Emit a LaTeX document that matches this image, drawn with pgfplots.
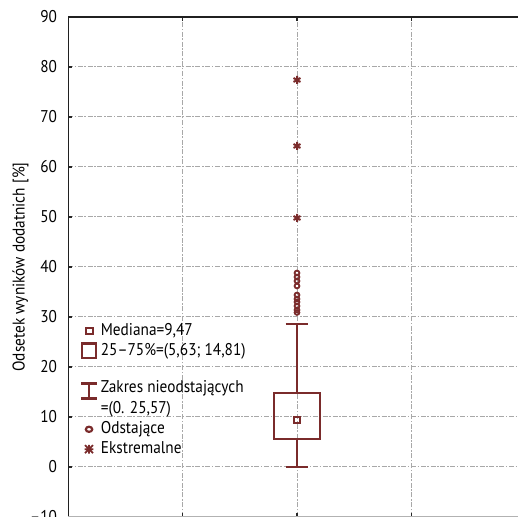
\documentclass[border=0pt]{standalone}
\usepackage{fontspec}
\setmainfont{PT Sans}[FakeStretch=0.9]
\usepackage{pgfplots}
\pgfplotsset{compat=1.18}
\usepgfplotslibrary{statistics}
\definecolor{boxc}{HTML}{7A2B2B}
\definecolor{gridc}{HTML}{A8A8A8}

\begin{document}
\begin{tikzpicture}
\begin{axis}[
    name=ax,
    scale only axis,
    width=229pt, height=250pt,
    xmin=0, xmax=4,
    ymin=-10, ymax=90,
    xtick={1,2,3}, xticklabels={},
    ytick={-10,0,10,20,30,40,50,60,70,80,90},
    yticklabels={–10,0,10,20,30,40,50,60,70,80,90},
    grid=major,
    grid style={gridc, line width=0.5pt, dash pattern=on 2.5pt off 0.8pt on 0.8pt off 0.8pt},
    axis line style={draw=none},
    tick style={draw=gray!30!black, line width=0.9pt},
    major tick length=2pt,
    tick align=inside,
    font=\fontsize{8.5}{10}\selectfont,
    ticklabel style={font=\fontsize{8.5}{10}\selectfont},
    yticklabel style={xshift=-2pt},
    ylabel={Odsetek wyników dodatnich [\%]},
    ylabel style={font=\fontsize{8.5}{10}\selectfont, yshift=-6pt},
    legend cell align=left,
    legend style={at={(axis cs:0.1,29.3)}, anchor=north west, draw=none, fill=none,
        inner sep=0pt, row sep=0pt, font=\fontsize{8.5}{10}\selectfont,
        nodes={inner sep=1.2pt}},
]
% legend images
\addlegendimage{legend image code/.code={
    \path[draw=none, fill=none] (0,-3pt) rectangle (9pt,3pt);
    \draw[boxc, line width=1.1pt] (2.6pt,-1.6pt) rectangle (6.2pt,1.6pt);}}
\addlegendentry{Mediana=9,47}
\addlegendimage{legend image code/.code={
    \path[draw=none, fill=none] (0,-5pt) rectangle (9pt,5pt);
    \draw[boxc, line width=1.1pt] (0.8pt,-3.6pt) rectangle (7.6pt,3.6pt);}}
\addlegendentry{25–75\%=(5,63; 14,81)}
\addlegendimage{legend image code/.code={
    \path[draw=none, fill=none] (0,-11pt) rectangle (9pt,9pt);
    \draw[boxc, line width=1.4pt] (0.4pt,3.4pt) -- (8.2pt,3.4pt)
        (0.4pt,-4.4pt) -- (8.2pt,-4.4pt) (4.3pt,3.4pt) -- (4.3pt,-4.4pt);}}
\addlegendentry{\shortstack[l]{\rule{0pt}{14.5pt}Zakres nieodstających\\=(0. 25,57)}}
\addlegendimage{legend image code/.code={
    \path[draw=none, fill=none] (0,-5pt) rectangle (9pt,5pt);
    \draw[boxc, line width=1.1pt] (4.3pt,0) ellipse (1.6pt and 1.3pt);}}
\addlegendentry{Odstające}
\addlegendimage{legend image code/.code={
    \path[draw=none, fill=none] (0,-4pt) rectangle (9pt,4pt);
    \draw[boxc, line width=0.9pt] (2.3pt,-2pt) -- (6.3pt,2pt) (2.3pt,2pt) -- (6.3pt,-2pt)
        (4.3pt,-2.2pt) -- (4.3pt,2.2pt) (2.1pt,0) -- (6.5pt,0);}}
\addlegendentry{Ekstremalne}

% box
\addplot[boxc, line width=1.3pt, forget plot,
    boxplot/draw direction=y,
    boxplot prepared={median=9.47, lower quartile=5.63, upper quartile=14.81,
        lower whisker=0, upper whisker=28.6, draw position=2,
        box extend=0.4, whisker extend=0.2},
    boxplot/draw/median/.code={}]
    coordinates {};
% median
\addplot[boxc, only marks, mark=square, mark size=1.5pt, line width=1pt, forget plot]
    coordinates {(2,9.3)};
% outliers
\addplot[boxc, only marks, mark=o, mark size=1.2pt, line width=0.9pt, forget plot]
    coordinates {(2,38.8) (2,38.0) (2,37.2) (2,36.2) (2,34.4) (2,33.6) (2,33.0) (2,32.2) (2,31.4) (2,30.9)};
% extremes
\addplot[boxc, only marks, mark=asterisk, mark size=2pt, line width=1pt, forget plot]
    coordinates {(2,77.4) (2,64.2) (2,49.8)};

\draw[gray!25!black, line width=1pt] (rel axis cs:0,0) -- (rel axis cs:0,1) -- (rel axis cs:1,1);
\draw[gray!60, line width=0.6pt] (rel axis cs:0,0) -- (rel axis cs:1,0);
\end{axis}
\pgfresetboundingbox
\path ([xshift=-34pt]ax.south west) rectangle ([xshift=225pt,yshift=8.5pt]ax.north west);
\end{tikzpicture}
\end{document}
